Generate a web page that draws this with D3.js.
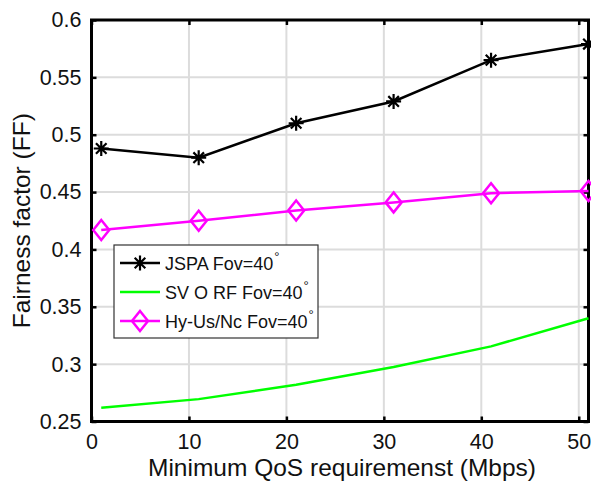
<!DOCTYPE html>
<html>
<head>
<meta charset="utf-8">
<script src="https://cdn.jsdelivr.net/npm/d3@7"></script>
<style>
  body { margin: 0; background: #fff; }
  svg { display: block; font-family: "Liberation Sans", Arial, sans-serif; }
</style>
</head>
<body>
<svg id="chart" width="591" height="486"></svg>
<script>
// data
var qos = [1, 11, 21, 31, 41, 51];
var jspa = [0.488, 0.480, 0.510, 0.529, 0.565, 0.579];
var svorf = [0.262, 0.2695, 0.282, 0.2975, 0.3155, 0.340];
var hyus = [0.417, 0.425, 0.434, 0.441, 0.449, 0.451];
var xTicks = [0, 10, 20, 30, 40, 50];
var yTicks = [0.25, 0.3, 0.35, 0.4, 0.45, 0.5, 0.55, 0.6];

var svg = d3.select("#chart"),
    pl = 91.5, pr = 588.5, pt = 20, pb = 421.5;

var x = d3.scaleLinear().domain([0, 51]).range([pl, pr]);
var y = d3.scaleLinear().domain([0.25, 0.6]).range([pb, pt]);

// grid
var grid = svg.append("g");
grid.selectAll("line.gx").data(xTicks.slice(1)).enter().append("line")
  .attr("x1", d => x(d)).attr("x2", d => x(d))
  .attr("y1", pt).attr("y2", pb)
  .attr("stroke", "#dcdcdc").attr("stroke-width", 2);
grid.selectAll("line.gy").data(yTicks.slice(1, -1)).enter().append("line")
  .attr("x1", pl).attr("x2", pr)
  .attr("y1", d => y(d)).attr("y2", d => y(d))
  .attr("stroke", "#dcdcdc").attr("stroke-width", 2);

// axes (ticks inward)
var ax = svg.append("g").attr("transform", "translate(0," + pb + ")")
  .call(d3.axisBottom(x).tickValues(xTicks).tickSizeInner(-5).tickSizeOuter(0).tickPadding(12));
var ax2 = svg.append("g").attr("transform", "translate(0," + pt + ")")
  .call(d3.axisTop(x).tickValues(xTicks).tickSizeInner(-5).tickSizeOuter(0).tickFormat(""));
var ay = svg.append("g").attr("transform", "translate(" + pl + ",0)")
  .call(d3.axisLeft(y).tickValues(yTicks).tickSizeInner(-5).tickSizeOuter(0).tickPadding(10)
    .tickFormat(d => String(+d.toFixed(2))));
var ay2 = svg.append("g").attr("transform", "translate(" + pr + ",0)")
  .call(d3.axisRight(y).tickValues(yTicks).tickSizeInner(-5).tickSizeOuter(0).tickFormat(""));

[ax, ax2, ay, ay2].forEach(function(g) {
  g.select(".domain").remove();
  g.selectAll("line").attr("stroke", "#000").attr("stroke-width", 2.5);
  g.selectAll("text").attr("font-size", 21.5).attr("fill", "#111")
    .attr("font-family", "Liberation Sans, Arial, sans-serif");
});

// frame
svg.append("rect").attr("x", pl).attr("y", pt)
  .attr("width", pr - pl).attr("height", pb - pt)
  .attr("fill", "none").attr("stroke", "#000").attr("stroke-width", 3);

// axis labels
svg.append("text").attr("x", (pl + pr) / 2 + 2).attr("y", 476)
  .attr("text-anchor", "middle").attr("font-size", 24.5).attr("fill", "#111")
  .text("Minimum QoS requiremenst (Mbps)");
svg.append("text")
  .attr("transform", "translate(30," + ((pt + pb) / 2) + ") rotate(-90)")
  .attr("text-anchor", "middle").attr("font-size", 24.5).attr("fill", "#111")
  .text("Fairness factor (FF)");

var line = d3.line().x(d => x(d[0])).y(d => y(d[1]));
var plot = svg.append("g");

function star(g, cx, cy, r) {
  var p = "";
  for (var k = 0; k < 4; k++) {
    var a = k * Math.PI / 4;
    p += "M" + (cx - r * Math.cos(a)) + "," + (cy - r * Math.sin(a)) +
         "L" + (cx + r * Math.cos(a)) + "," + (cy + r * Math.sin(a));
  }
  g.append("path").attr("d", p).attr("stroke", "#000").attr("stroke-width", 2.2);
}
function diamond(g, cx, cy) {
  g.append("path")
    .attr("d", "M" + cx + "," + (cy - 10) + "L" + (cx + 8) + "," + cy + "L" + cx + "," + (cy + 10) + "L" + (cx - 8) + "," + cy + "Z")
    .attr("fill", "none").attr("stroke", "#ff00ff").attr("stroke-width", 2.5);
}

plot.append("path").datum(d3.zip(qos, svorf)).attr("d", line)
  .attr("fill", "none").attr("stroke", "#00ff00").attr("stroke-width", 2.5);
plot.append("path").datum(d3.zip(qos, hyus)).attr("d", line)
  .attr("fill", "none").attr("stroke", "#ff00ff").attr("stroke-width", 2.5);
plot.append("path").datum(d3.zip(qos, jspa)).attr("d", line)
  .attr("fill", "none").attr("stroke", "#000").attr("stroke-width", 2.5);
qos.forEach(function(q, i) { diamond(plot, x(q), y(hyus[i])); });
qos.forEach(function(q, i) { star(plot, x(q), y(jspa[i]), 7.5); });

// legend
var leg = svg.append("g");
leg.append("rect").attr("x", 114).attr("y", 245).attr("width", 204).attr("height", 93)
  .attr("fill", "#fff").attr("stroke", "#333").attr("stroke-width", 1.2);
var names = ["JSPA Fov=40", "SV O RF Fov=40", "Hy-Us/Nc Fov=40"];
var cols = ["#000", "#00ff00", "#ff00ff"];
var ly = [263, 292, 321];
names.forEach(function(n, i) {
  leg.append("line").attr("x1", 120).attr("x2", 160).attr("y1", ly[i]).attr("y2", ly[i])
    .attr("stroke", cols[i]).attr("stroke-width", 2.5);
  if (i === 0) star(leg, 140, ly[i], 7.5);
  if (i === 2) diamond(leg, 140, ly[i]);
  var t = leg.append("text").attr("x", 165).attr("y", ly[i] + 7)
    .attr("font-size", 18).attr("fill", "#111");
  t.append("tspan").text(n);
  t.append("tspan").attr("dy", -9).attr("dx", 1).attr("font-size", 13).text("\u00B0");
});
</script>
</body>
</html>
